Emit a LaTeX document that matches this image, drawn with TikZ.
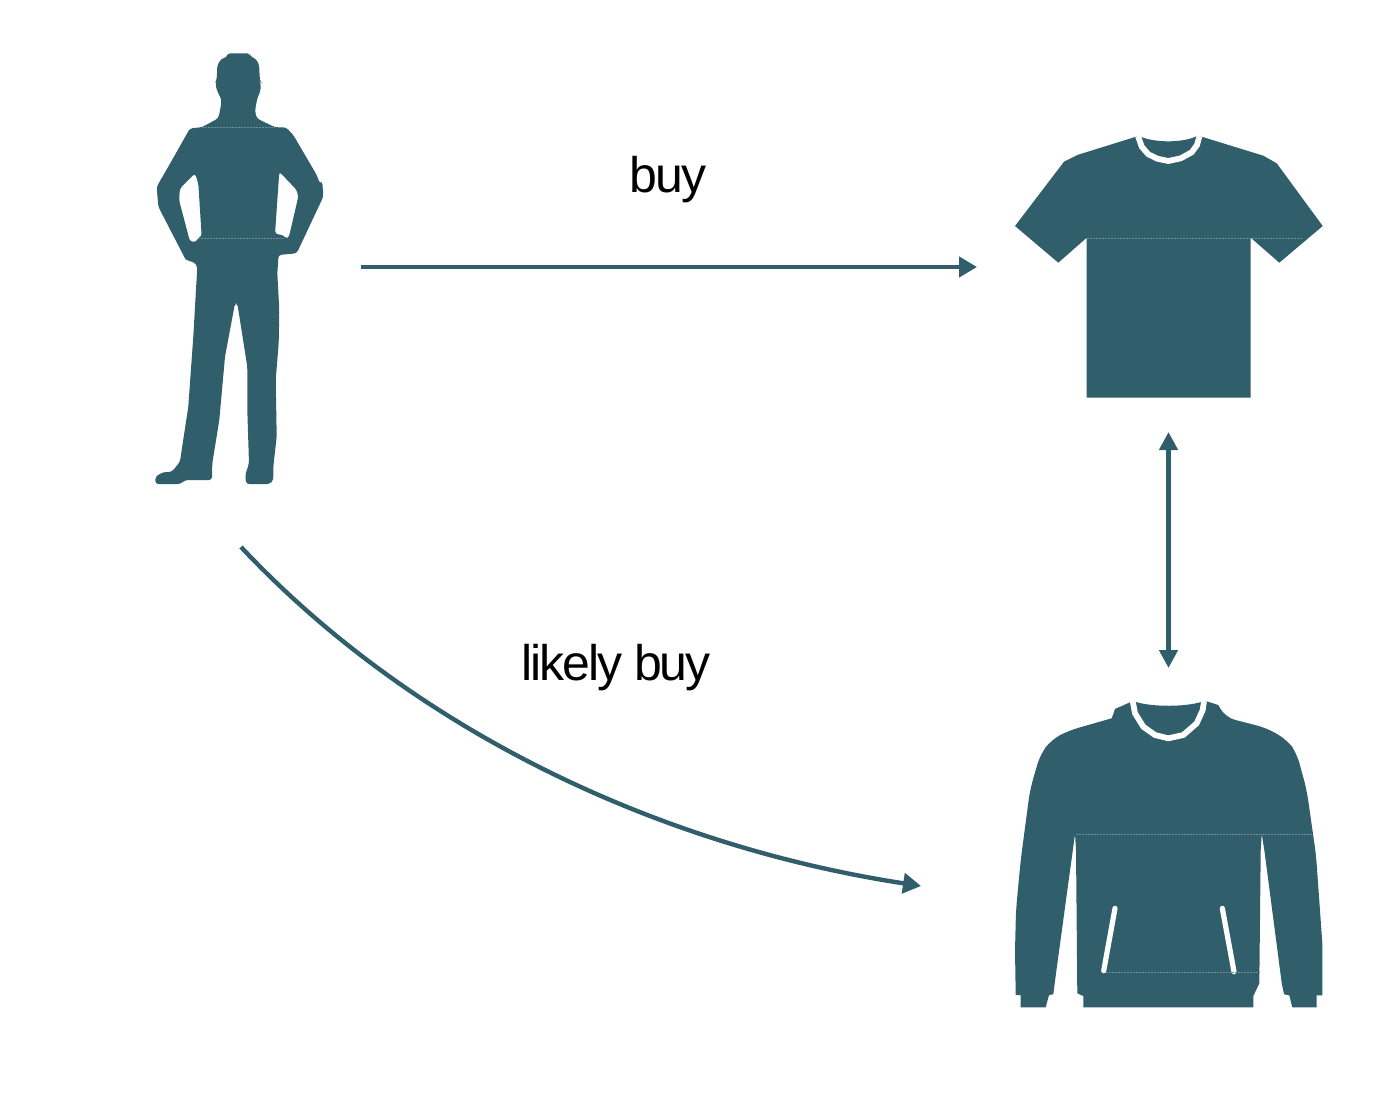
\documentclass[tikz,border=0pt]{standalone}
\usepackage{fontspec}
\setmainfont{Liberation Sans}[LetterSpace=-4]
\usetikzlibrary{arrows.meta}
\definecolor{teal}{HTML}{305E6A}
\definecolor{seam}{HTML}{6F8D96}
\tikzset{
  figure/.style={fill=teal,draw=none,even odd rule},
  collar/.style={draw=white,line width=2.9pt,line join=round},
  pocket/.style={draw=white,line width=2.6pt,line cap=round},
  seamline/.style={draw=seam,line width=0.35pt,dash pattern=on 1pt off 0.5pt},
  link/.style={draw=teal,line width=2.2pt},
  onehead/.style={-{Triangle[length=9pt,width=10pt]}},
  twohead/.style={{Triangle[length=9pt,width=9pt]}-{Triangle[length=9pt,width=9pt]}},
  label/.style={font=\fontsize{25pt}{30pt}\selectfont,text=black,anchor=base,inner sep=0pt}
}
\begin{document}
\begin{tikzpicture}[x=0.5pt,y=-0.5pt]
\useasboundingbox (0,0) rectangle (1400,1098);
% person
\path[figure,rounded corners=1.5pt] (227.3,53.3)--(250,53.3)--(250,56.7)--(255,58)--(259,64)--(260,81.7)--(260.7,82.3)--(260.7,90)--(257.3,98.3)--(255,110.7)--(256.7,118.3)--(275,127.3)--(286,127.3)--(293.3,135)--(316.7,175)--(320,184)--(322.3,181.7)--(323.3,196.7)--(296.7,253.3)--(278.3,255)--(278.3,260)--(277.3,273)--(279.3,310)--(278.7,343)--(275.7,380)--(276.7,436.7)--(273.3,466.7)--(273.3,480)--(270,484)--(246,484)--(245.3,475)--(249,463.3)--(247.3,410)--(247.3,366.7)--(237.3,303.3)--(235,303.3)--(225,356.7)--(219.3,420)--(212.3,463.3)--(212,480)--(185,480)--(180.7,484)--(155.3,484)--(155.3,476.7)--(163.3,472)--(171.7,472)--(180,461.7)--(181.7,450)--(188.3,406.7)--(193.3,336.7)--(197.3,266.7)--(195,262.7)--(186,260)--(185,258.3)--(158.3,206.7)--(156.7,186.7)--(168.3,166.7)--(190,128.3)--(201.7,127.3)--(218.3,118.3)--(220,110.7)--(221.7,100)--(216.7,90)--(215.3,82.3)--(216.7,80)--(217.3,65)--(221.7,58.3)--(227.3,57.3)--cycle
 (195,173.3)--(180,188.3)--(179,200)--(190,241.7)--(197.3,241.7)--(197.3,238.3)--(201.7,236.7)--(198.3,183.3)--cycle
 (279.3,171.7)--(275,234)--(283.3,235)--(286.7,239.3)--(289,236.7)--(298.3,196.7)--(296.7,190)--cycle;
\draw[seamline] (198,238)--(285,238);
\draw[seamline] (202,127.5)--(275,127.5);
% t-shirt
\path[figure] (1136,136.7)--(1077.3,155)--(1064,161.7)--(1015,226)--(1058.3,262.7)--(1086.7,237.7)--(1086.7,397.7)--(1250.7,397.7)--(1250.7,237.7)--(1279.3,262.7)--(1322.7,226)--(1276.7,163.3)--(1263.3,155.7)--(1201.7,136.7)--(1197,136)..controls (1183,143) and (1155,143) .. (1140,136.5)--cycle;
\draw[collar] (1138,136)--(1141.7,146.7)--(1148.3,154.3)--(1157.3,158.7)--(1168.3,161)--(1180.7,158.3)--(1191.7,152.3)--(1197,145)--(1199.5,136);
\draw[seamline] (1087,238)--(1303,238);
% hoodie
\path[figure] (1130.7,702)--(1115,709)--(1111.7,718.3) [rounded corners=5pt] --(1068.3,730.7)--(1051,740)--(1040,755)--(1030,790)--(1020.7,860)--(1016,910)--(1015,950) [sharp corners] --(1015.7,995)--(1020.7,995)--(1020.7,1007.3)--(1045.7,1007.3)--(1049,995)--(1053.3,994.3)--(1056,973.3)--(1075,834)--(1076,850)--(1077.3,993.3)--(1083.3,996)--(1083.3,1007.3)--(1253.3,1007.3)--(1253.3,996)--(1259.3,983.3)--(1260.7,850)--(1261.7,834)--(1264.3,850)--(1281.7,983)--(1284,994.3)--(1289.3,995.3)--(1292.3,1007.3)--(1316.7,1007.3)--(1316.7,995.3)--(1322.3,995.3)--(1322.3,943.3) [rounded corners=5pt] --(1316,855)--(1306.7,790)--(1296.7,753.3)--(1287.3,740)--(1266.7,728)--(1225,717.3) [sharp corners] --(1218.3,705)--(1206.7,701.3)--(1201,702)..controls (1185,707) and (1152,707) .. (1136,702)--cycle;
\draw[collar] (1132.7,701)--(1135,713.3)--(1143.3,726.7)--(1155,735)--(1168.3,738.3)--(1183.3,735)--(1196.7,723.3)--(1202.7,710)--(1204,701);
\draw[pocket] (1115,908.3)--(1103.7,970.7);
\draw[pocket] (1222.3,908.3)--(1234,971.7);
\draw[seamline] (1076,834)--(1313,834);
\draw[seamline] (1106,972)--(1260,972);
% connectors
\coordinate (buyFrom) at (361,267);
\coordinate (buyTo) at (977,267);
\coordinate (pairTop) at (1168.5,432);
\coordinate (pairBottom) at (1168.5,668);
\coordinate (likelyFrom) at (241,547);
\coordinate (likelyTo) at (921,886);
\draw[link,onehead] (buyFrom)--(buyTo);
\draw[link,twohead] (pairTop)--(pairBottom);
\draw[link,onehead] (likelyFrom) .. controls (415,732) and (660,846) .. (likelyTo);
% labels
\node[label] (buy) at (668,192) {buy};
\node[label] (likely) at (616,680) {likely buy};
\end{tikzpicture}
\end{document}
